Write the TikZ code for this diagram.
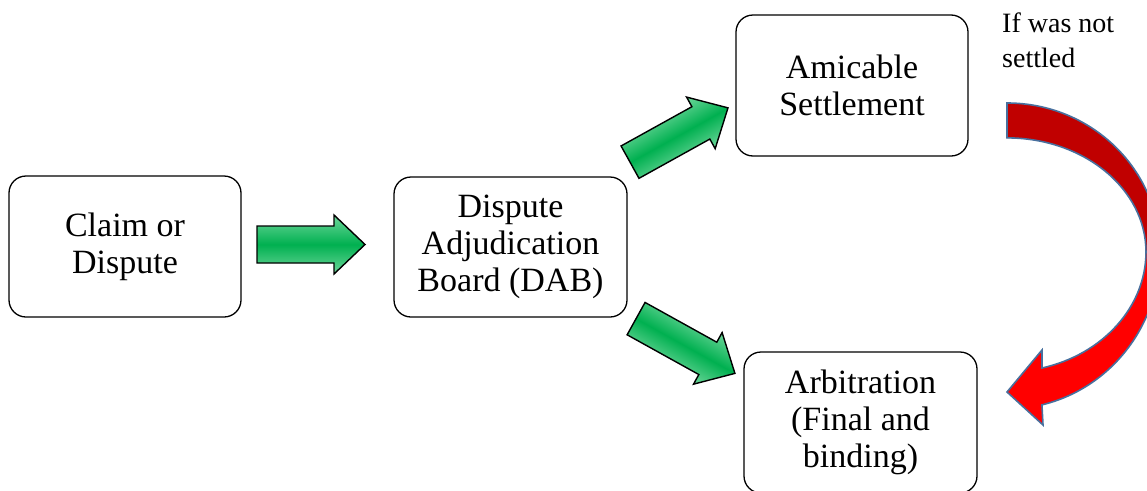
\documentclass[tikz,border=0pt]{standalone}
\usepackage{fontspec}
\setmainfont{Liberation Serif}
\definecolor{garrowlight}{RGB}{110,215,155}
\definecolor{garrowmid}{RGB}{0,176,80}
\definecolor{redtop}{RGB}{192,0,0}
\definecolor{redbottom}{RGB}{255,0,0}
\definecolor{rededge}{RGB}{72,112,158}
\tikzset{
  box/.style={draw=black, line width=1.3pt, rounded corners=17pt,
    minimum width=232pt, minimum height=141pt, align=center, inner sep=0pt,
    font=\fontsize{34}{36.7}\selectfont},
  greenblock/.style={draw=black, line width=1.4pt, line join=miter,
    top color=garrowlight, bottom color=garrowlight, middle color=garrowmid},
  curvepiece/.style={draw=none},
  curveedge/.style={draw=rededge, line width=1.6pt, line join=miter},
  note/.style={font=\fontsize{28}{35}\selectfont, align=left, inner sep=0pt}
}
% green block arrow: centre x, centre y, angle, length, tip name
\newcommand\greenblock[5]{%
  \begin{scope}[transform canvas={shift={(#1,#2)}, rotate=#3}]
    \path[greenblock] (-#4/2,-18.5) -- (#4/2-31,-18.5) -- (#4/2-31,-29.5)
      -- (#4/2,0) coordinate (#5) -- (#4/2-31,29.5) -- (#4/2-31,18.5)
      -- (-#4/2,18.5) -- cycle;
  \end{scope}}
\begin{document}
\begin{tikzpicture}[x=1pt,y=-1pt]
  \useasboundingbox (0,0) rectangle (1147,490);
  \clip (0,0) rectangle (1147,490);

  \node[box] (claim) at (125,246.5) {Claim or\\Dispute};
  \node[box, minimum width=233pt, minimum height=140pt] (dab) at (510.5,247)
    {Dispute\\Adjudication\\Board (DAB)};
  \node[box] (amicable) at (852,85.5) {Amicable\\Settlement};
  \node[box, minimum width=233pt] (arb) at (860.5,422.5)
    {Arbitration\\(Final and\\binding)};

  \greenblock{311}{244.5}{0}{108}{ga1}
  \greenblock{679}{135}{29}{112}{ga2}
  \greenblock{685.5}{346}{-29}{113}{ga3}

  % curved arrow, top (dark red) part
  \path[curvepiece, fill=redtop] (1007,103)
    arc[start angle=-90, end angle=0, x radius=153, y radius=149]
    -- (1146,252)
    arc[start angle=0, end angle=-90, x radius=139, y radius=114]
    -- cycle;
  % lower (bright red) part with head
  \path[curvepiece, fill=redbottom] (1160,252)
    arc[start angle=0, end angle=76.8, x radius=153, y radius=157]
    -- (1043,425) -- (1007,392) -- (1042,350)
    -- (1042,368)
    arc[start angle=75.4, end angle=0, x radius=139, y radius=120]
    -- cycle;
  % outline
  \path[curveedge] (1007,103)
    arc[start angle=-90, end angle=0, x radius=153, y radius=149]
    arc[start angle=0, end angle=76.8, x radius=153, y radius=157]
    -- (1043,425) -- (1007,392) coordinate (ctip) -- (1042,350)
    -- (1042,368)
    arc[start angle=75.4, end angle=0, x radius=139, y radius=120]
    arc[start angle=0, end angle=-90, x radius=139, y radius=114]
    -- cycle;

  \node[note, anchor=base west] (ifnot) at (1002,67) {If was not\\settled};
\end{tikzpicture}
\end{document}
